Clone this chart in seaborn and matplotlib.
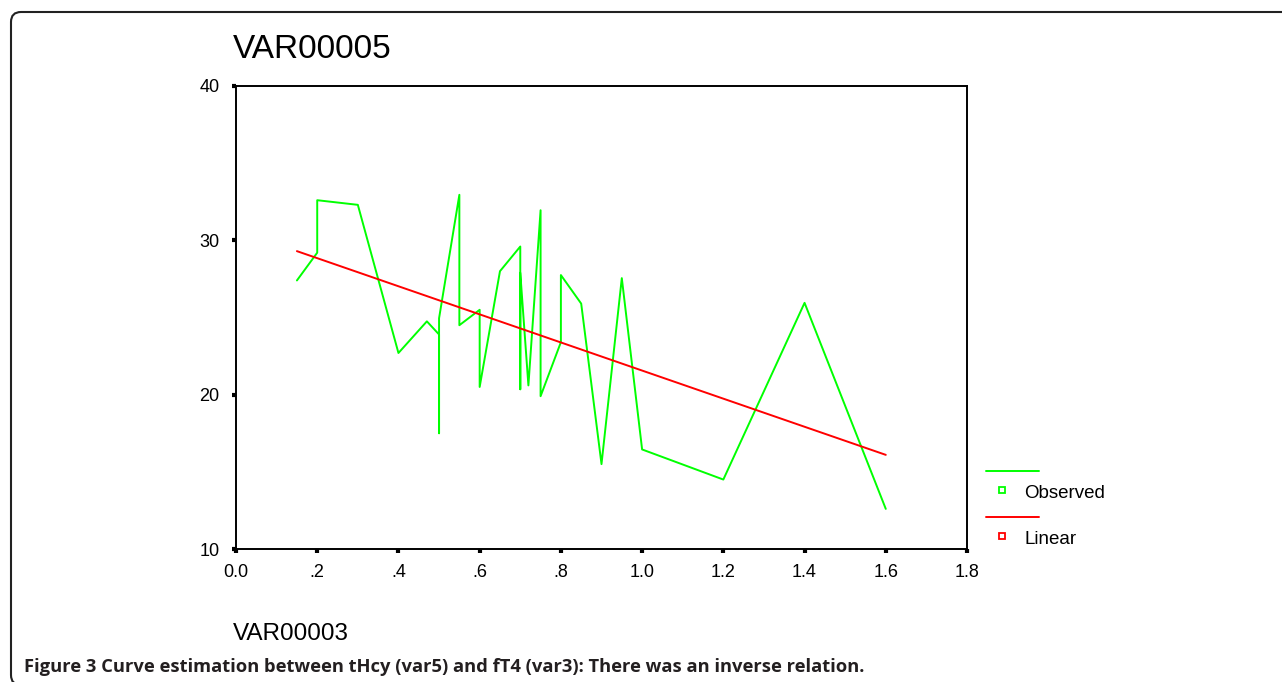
import numpy as np
import pandas as pd
import seaborn as sns
import matplotlib.pyplot as plt
from matplotlib.lines import Line2D
from matplotlib.patches import FancyBboxPatch

# observed values, in the order SPSS drew them (sorted by VAR00003)
var3 = [0.15, 0.20, 0.20, 0.30, 0.40, 0.47, 0.50, 0.50, 0.50, 0.55, 0.55, 0.60, 0.60, 0.65, 0.70,
        0.70, 0.70, 0.72, 0.75, 0.75, 0.80, 0.80, 0.85, 0.90, 0.95, 1.00, 1.20, 1.40, 1.60]
var5 = [27.4, 29.2, 32.6, 32.3, 22.7, 24.75, 23.9, 17.5, 24.95, 32.95, 24.5, 25.5, 20.5, 28.0, 29.6,
        20.35, 27.9, 20.6, 31.95, 19.9, 23.4, 27.75, 25.9, 15.5, 27.55, 16.45, 14.5, 25.95, 12.6]

# linear fit, end points
fit_x = [0.15, 1.60]
fit_y = [29.3, 16.1]

x_ticks = [0.0, 0.2, 0.4, 0.6, 0.8, 1.0, 1.2, 1.4, 1.6, 1.8]
x_labels = ["0.0", ".2", ".4", ".6", ".8", "1.0", "1.2", "1.4", "1.6", "1.8"]
y_ticks = [10, 20, 30, 40]

W, H = 1282, 682


def px(x, y):
    # pixel (from top-left) -> figure fraction
    return x / W, 1 - y / H


def main():
    sns.set_style("white")
    plt.rcParams["font.family"] = ["Liberation Sans", "DejaVu Sans"]
    plt.rcParams["text.color"] = "black"

    fig = plt.figure(figsize=(W / 100, H / 100), dpi=100)
    ax = fig.add_axes([236 / W, 1 - 549 / H, 731 / W, 463 / H])

    observed = pd.DataFrame({"VAR00003": var3, "VAR00005": var5})
    sns.lineplot(data=observed, x="VAR00003", y="VAR00005", sort=False, estimator=None,
                 color="#00ff00", lw=1.4, ax=ax)
    sns.lineplot(x=fit_x, y=fit_y, sort=False, estimator=None, color="#ff0000", lw=1.4, ax=ax)

    ax.set_xlim(0, 1.8)
    ax.set_ylim(10, 40)
    ax.set_xticks(x_ticks)
    ax.set_xticklabels(x_labels)
    ax.set_yticks(y_ticks)
    ax.tick_params(axis="both", direction="out", length=3, width=3, color="black",
                   labelsize=13, labelcolor="black", bottom=True, left=True)
    ax.tick_params(axis="x", pad=8)
    ax.tick_params(axis="y", pad=9)
    for sp in ax.spines.values():
        sp.set_visible(True)
        sp.set_color("black")
        sp.set_linewidth(1.4)

    ax.set_title("VAR00005", loc="left", fontsize=24, pad=20, x=-0.004, color="black")
    ax.set_xlabel("VAR00003", loc="left", fontsize=17.5, labelpad=30, color="black")
    ax.xaxis.label.set_x(-0.004)
    ax.set_ylabel("")

    # SPSS style legend: line sample above, hollow square with label below
    for y_line, y_box, col, lab in [(471, 490, "#00ff00", "Observed"),
                                    (517, 536, "#ff0000", "Linear")]:
        (x0, yl), (x1, _) = px(986, y_line), px(1039, y_line)
        fig.add_artist(Line2D([x0, x1], [yl, yl], color=col, lw=1.4, transform=fig.transFigure))
        bx, by = px(1002, y_box)
        fig.add_artist(Line2D([bx], [by], marker="s", markersize=5, mfc="white", mec=col,
                              mew=1.3, transform=fig.transFigure))
        tx, ty = px(1024, y_box + 4)
        fig.text(tx, ty, lab, fontsize=13.5, va="center", ha="left", color="black")

    # outer rounded frame
    frame = FancyBboxPatch((0.11, -0.03), 13.2, 6.73, boxstyle="round,pad=0,rounding_size=0.1",
                           transform=fig.dpi_scale_trans, fill=False, ec="#222222", lw=1.5)
    fig.add_artist(frame)

    cx, cy = px(24, 672)
    fig.text(cx, cy, "Figure 3 Curve estimation between tHcy (var5) and fT4 (var3): There was an inverse relation.",
             fontsize=13.2, fontweight="bold", family=["Open Sans", "DejaVu Sans"], color="#231f20",
             va="baseline", ha="left")

    fig.savefig("out.png", dpi=100)
    plt.close(fig)


if __name__ == "__main__":
    main()
